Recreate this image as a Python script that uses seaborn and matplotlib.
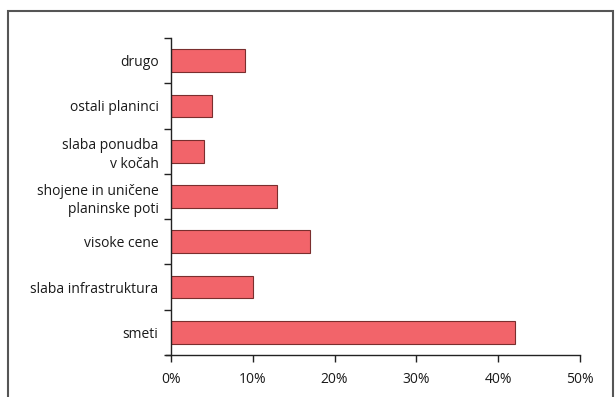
import matplotlib
matplotlib.use("Agg")
import matplotlib.pyplot as plt
import seaborn as sns
import pandas as pd
import numpy as np
from matplotlib.patches import Rectangle
from matplotlib.ticker import FuncFormatter

categories = ["drugo", "ostali planinci", "slaba ponudba\nv kočah",
              "shojene in uničene\nplaninske poti", "visoke cene",
              "slaba infrastruktura", "smeti"]
values = [9, 5, 4, 13, 17, 10, 42]
x_ticks = [0, 10, 20, 30, 40, 50]

sns.set_theme(style="white")
plt.rcParams['font.family'] = ['Open Sans', 'DejaVu Sans']

df = pd.DataFrame({"cat": categories, "val": values})

fig = plt.figure(figsize=(6.16, 3.97), dpi=100)
ax = fig.add_axes([171/616, 1 - 355/397, (580-171)/616, (355-38)/397])

sns.barplot(data=df, x="val", y="cat", orient="h", color="#F2646A",
            saturation=1, width=0.5, edgecolor="#7a2e2e", linewidth=0.8, ax=ax)

ax.set_xlim(0, 50)
ax.set_ylim(len(categories) - 0.5, -0.5)
ax.set_xticks(x_ticks)
ax.xaxis.set_major_formatter(FuncFormatter(lambda v, p: f"{int(v)}%"))
bounds = np.arange(-0.5, len(categories), 1.0)
ax.set_yticks(bounds)
ax.set_yticklabels([""] * len(bounds))
ax.set_yticks(np.arange(len(categories)), minor=True)
ax.set_yticklabels(categories, minor=True, fontsize=10, color="#1a1a1a",
                   ha="right", linespacing=1.3)
ax.tick_params(axis="y", which="minor", length=0, pad=9)
ax.tick_params(axis="y", which="major", length=5, width=1, color="#222222",
               direction="out", left=True)
ax.tick_params(axis="x", length=5, width=1, color="#222222", direction="out",
               bottom=True, labelsize=10, labelcolor="#1a1a1a", pad=7)
ax.set_xlabel("")
ax.set_ylabel("")
for s in ["top", "right"]:
    ax.spines[s].set_visible(False)
for s in ["left", "bottom"]:
    ax.spines[s].set_color("#222222")
    ax.spines[s].set_linewidth(1)
ax.spines["bottom"].set_bounds(-0.6, 50)

fig.patches.append(Rectangle((8/616, -0.05), (613-8)/616, 1 - 11/397 + 0.05,
                             transform=fig.transFigure, fill=False,
                             edgecolor="#555555", linewidth=1.5))

fig.savefig("out.png", dpi=100)
